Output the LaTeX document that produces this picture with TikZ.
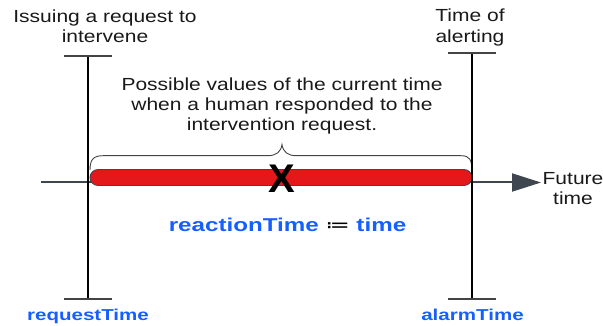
\documentclass[tikz,border=0pt]{standalone}
\usepackage{fontspec}
\setmainfont{Liberation Sans}
\newfontfamily\symfont{DejaVu Sans}
\usepackage{graphicx}
\usetikzlibrary{arrows.meta}
\definecolor{myblue}{RGB}{22,94,255}
\definecolor{lineg}{RGB}{62,70,80}
\definecolor{tickg}{RGB}{68,68,68}
\definecolor{barred}{RGB}{228,24,26}
\definecolor{txtg}{RGB}{25,25,25}
\newcommand\wideg[1]{\scalebox{1.2}[1]{#1}}
\newcommand\wideb[1]{\scalebox{1.3}[1]{#1}}
\tikzset{
  gtxt/.style={anchor=base, inner sep=0pt, text=txtg, font=\fontsize{17.5}{20}\selectfont},
  btxt/.style={anchor=base, inner sep=0pt, text=myblue, font=\fontsize{15.8}{18}\bfseries\selectfont},
  tickline/.style={draw=tickg, line width=2pt},
  vline/.style={draw=black, line width=1.3pt},
}
\begin{document}
\begin{tikzpicture}[x=1pt,y=-1pt]
\useasboundingbox (0,0) rectangle (603,326);
% coordinates
\coordinate (lt) at (88,55.7);
\coordinate (lb) at (88,299);
\coordinate (rt) at (472,53.5);
\coordinate (rb) at (472,299);
\coordinate (tls) at (41,182.5);
\coordinate (tle) at (541,182.5);
% timeline
\draw[draw=lineg, line width=2pt, -{Triangle[length=29pt,width=18pt]}] (tls) -- (tle);
% red bar
\draw[fill=barred, draw=lineg, line width=0.8pt, rounded corners=8pt] (90,169.5) rectangle (472,185.5);
% brace
\draw[draw=tickg, line width=0.9pt] (90,170) .. controls (90,160) and (93,155.7) .. (103,155.7) -- (268,155.7) .. controls (276,155.7) and (281,152) .. (282,144.5) .. controls (283,152) and (288,155.7) .. (296,155.7) -- (461,155.7) .. controls (470,155.7) and (472,160) .. (472,172);
% verticals
\draw[vline] (lt) -- (lb);
\draw[vline] (rt) -- (rb);
% ticks
\draw[tickline] ([xshift=-23.7pt]lt) -- ([xshift=23.7pt]lt);
\draw[tickline] ([xshift=-23.7pt]lb) -- ([xshift=23.7pt]lb);
\draw[tickline] ([xshift=-24pt]rt) -- ([xshift=24pt]rt);
\draw[tickline] ([xshift=-24pt]rb) -- ([xshift=24pt]rb);
% X
\node[inner sep=0pt, font=\fontsize{40}{40}\bfseries\selectfont] (xmark) at (281.5,179) {X};
% gray texts
\node[gtxt] (iss1) at (105,22.5) {\wideg{Issuing a request to}};
\node[gtxt] (iss2) at (105,42.5) {\wideg{intervene}};
\node[gtxt] (al1) at (470,22) {\wideg{Time of}};
\node[gtxt] (al2) at (470,42.5) {\wideg{alerting}};
\node[gtxt] (pv1) at (282,90.5) {\wideg{Possible values of the current time}};
\node[gtxt] (pv2) at (282,110.5) {\wideg{when a human responded to the}};
\node[gtxt] (pv3) at (282,130.5) {\wideg{intervention request.}};
\node[gtxt] (fu1) at (573,185) {\wideg{Future}};
\node[gtxt] (fu2) at (573,205) {\wideg{time}};
% blue texts
\node[btxt, font=\fontsize{18.6}{20}\bfseries\selectfont] (react) at (287.5,232) {\wideb{reactionTime {\symfont\mdseries\color{black}≔} time}};
\node[btxt] (req) at (88,320) {\wideb{requestTime}};
\node[btxt] (alarm) at (472.5,320) {\wideb{alarmTime}};
\end{tikzpicture}
\end{document}
